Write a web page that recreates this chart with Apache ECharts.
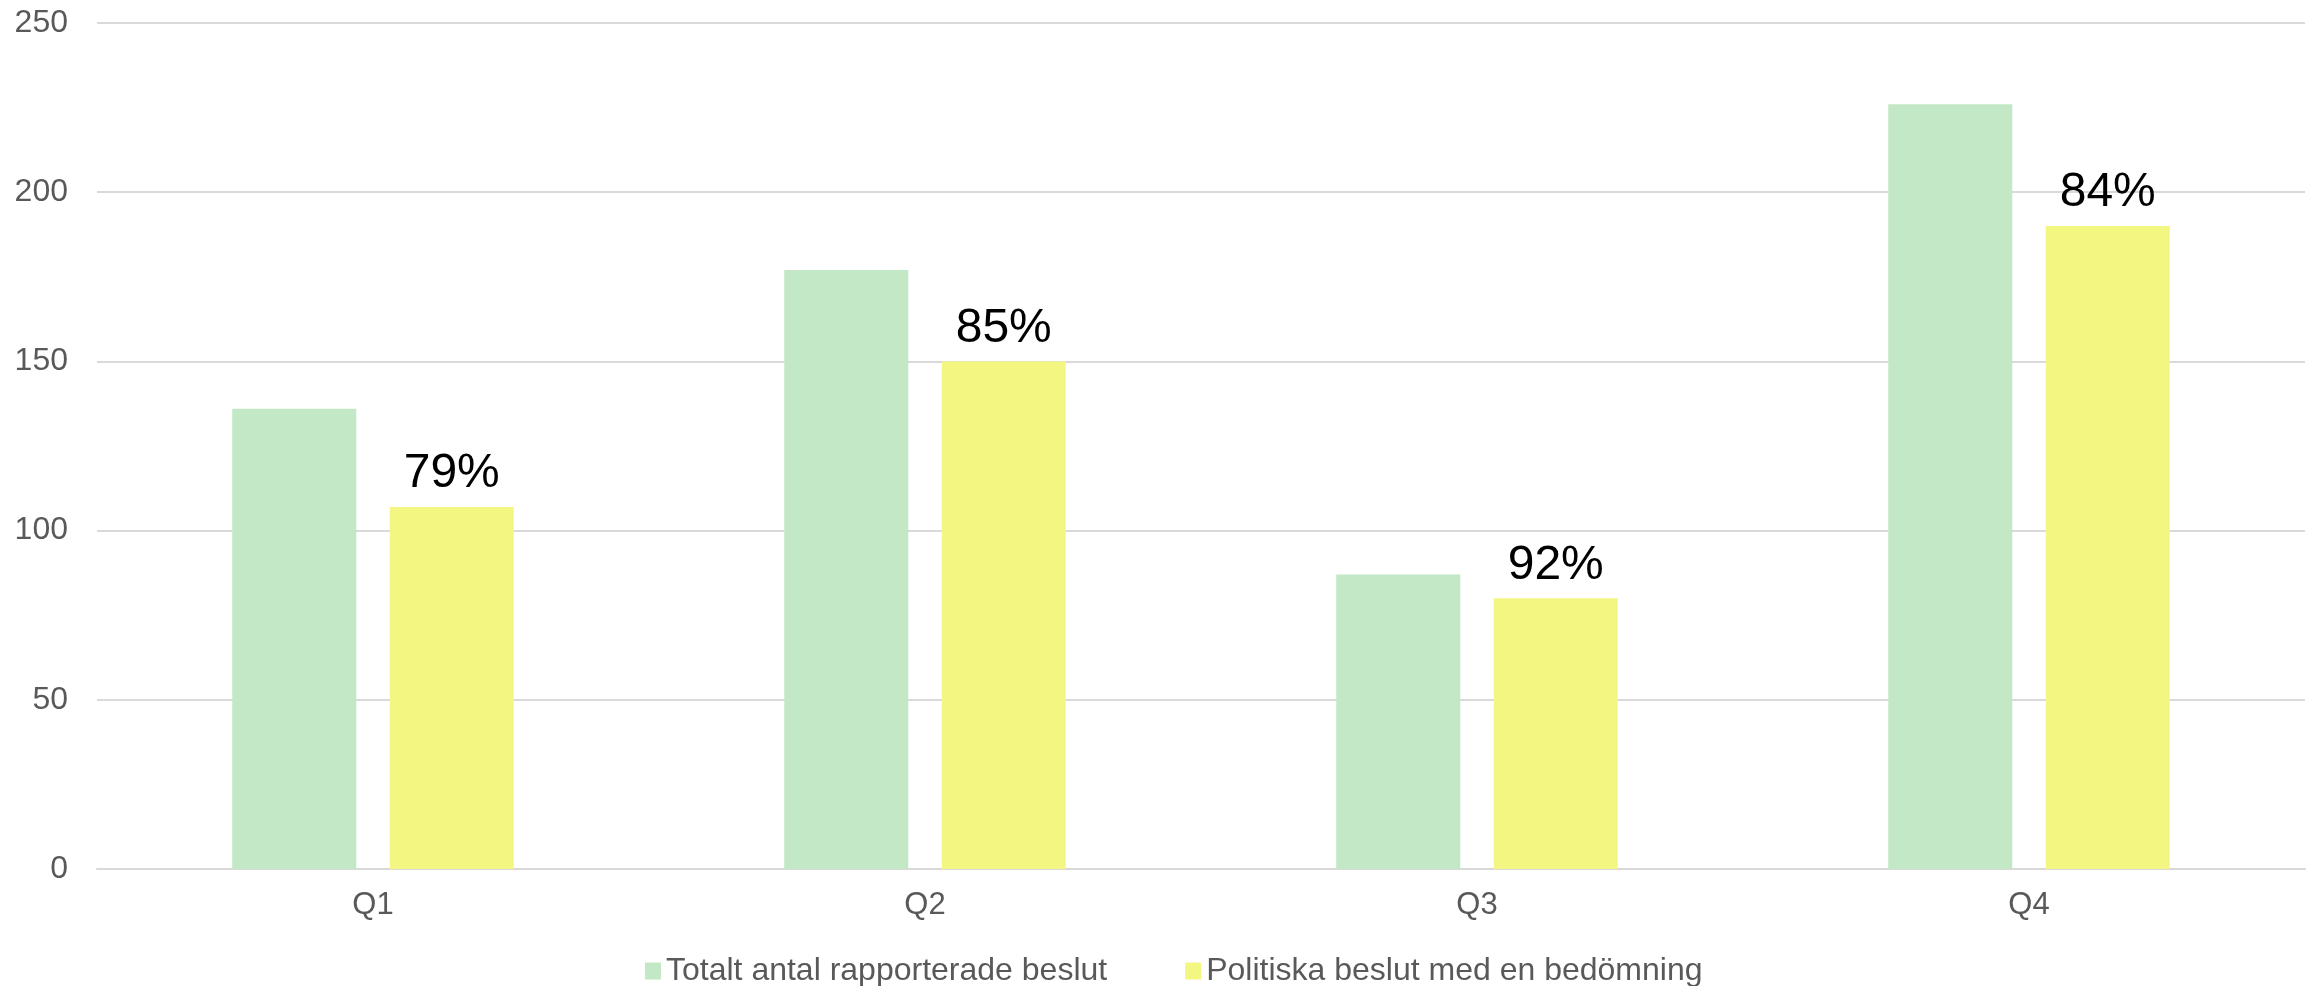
<!DOCTYPE html>
<html>
<head>
<meta charset="utf-8">
<script src="https://cdn.jsdelivr.net/npm/echarts@6/dist/echarts.min.js"></script>
<style>html,body{margin:0;padding:0;background:#fff;}#c{width:2318px;height:986px;}</style>
</head>
<body>
<div id="c"></div>
<script>
const categories = ['Q1', 'Q2', 'Q3', 'Q4'];
const totalDecisions = [136, 177, 87, 226];
const politicalAssessed = [107, 150, 80, 190];
const percentLabels = ['79%', '85%', '92%', '84%'];
const seriesNames = ['Totalt antal rapporterade beslut', 'Politiska beslut med en bedömning'];

const FONT = '"Liberation Sans", Arial, sans-serif';
const chart = echarts.init(document.getElementById('c'), null, {renderer: 'canvas'});
chart.setOption({
  animation: false,
  backgroundColor: '#ffffff',
  textStyle: {fontFamily: FONT},
  grid: {left: 97, right: 13, top: 23, bottom: 117},
  legend: {
    left: 640, top: 950,
    itemWidth: 16, itemHeight: 17, itemGap: 78,
    icon: 'rect',
    textStyle: {fontSize: 32, color: '#595959', fontFamily: FONT},
    data: seriesNames
  },
  xAxis: {
    type: 'category',
    data: categories,
    axisLine: {show: true, lineStyle: {color: '#d9d9d9', width: 2}},
    axisTick: {show: false},
    axisLabel: {fontSize: 31, color: '#595959', margin: 21, fontFamily: FONT}
  },
  yAxis: {
    type: 'value',
    min: 0, max: 250, interval: 50,
    axisLine: {show: false},
    axisTick: {show: false},
    axisLabel: {fontSize: 32, color: '#595959', margin: 29, fontFamily: FONT},
    splitLine: {lineStyle: {color: '#d9d9d9', width: 2}}
  },
  series: [
    {
      name: seriesNames[0],
      type: 'bar',
      data: totalDecisions,
      barWidth: 124,
      barGap: '27%',
      itemStyle: {color: '#c2e8c6'}
    },
    {
      name: seriesNames[1],
      type: 'bar',
      data: politicalAssessed,
      barWidth: 124,
      itemStyle: {color: '#f3f781'},
      label: {
        show: true,
        position: 'top',
        distance: 9,
        fontSize: 48,
        color: '#000000',
        fontFamily: FONT,
        formatter: p => percentLabels[p.dataIndex]
      }
    }
  ]
});
</script>
</body>
</html>
